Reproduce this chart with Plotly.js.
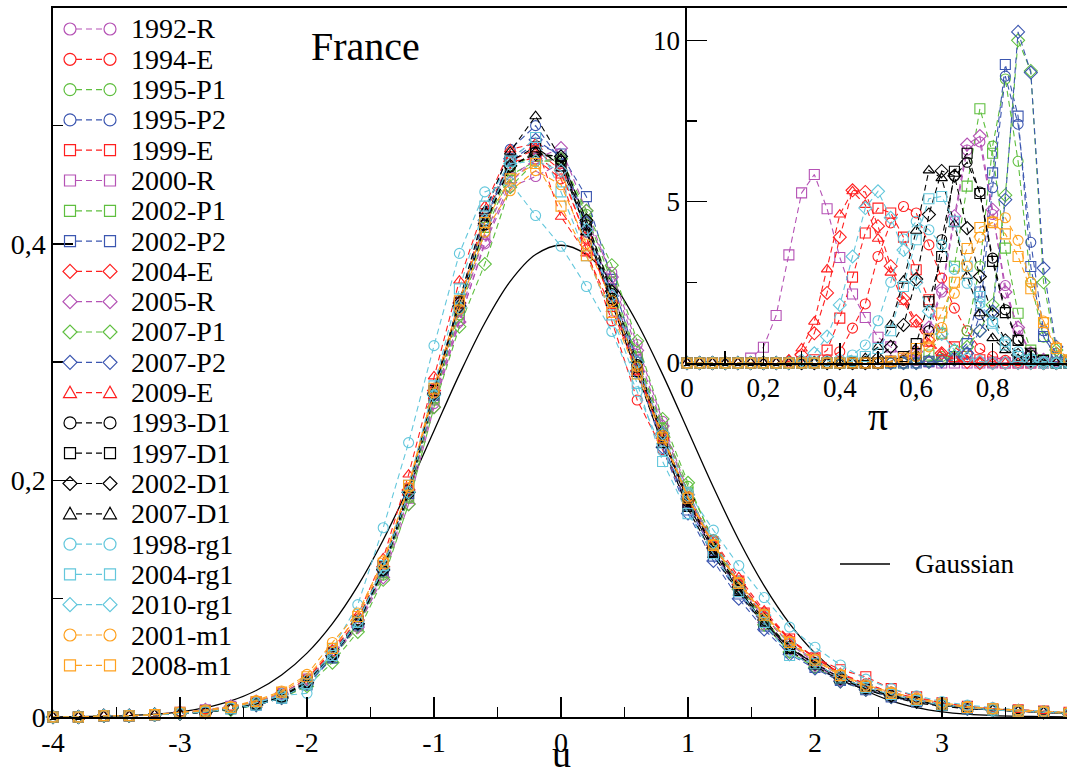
<!DOCTYPE html>
<html><head><meta charset="utf-8">
<script src="https://cdn.plot.ly/plotly-3.0.1.min.js"></script>
<style>html,body{margin:0;padding:0;overflow:hidden;background:#fff}#chart{width:1069px;height:777px}</style>
</head><body><div id="chart"></div><script>
// ---------- DATA ----------
const seriesNames = ['1992-R','1994-E','1995-P1','1995-P2','1999-E','2000-R','2002-P1','2002-P2','2004-E','2005-R','2007-P1','2007-P2','2009-E','1993-D1','1997-D1','2002-D1','2007-D1','1998-rg1','2004-rg1','2010-rg1','2001-m1','2008-m1'];
const M='#b552b5', R='#ff1f1f', G='#5fbf3f', B='#3b56b0', K='#000000', C='#63c7dc', O='#ffa11f';
const seriesColors = [M,R,G,B,R,M,G,B,R,M,G,B,R,K,K,K,K,C,C,C,O,O];
const seriesSymbols = ['circle','circle','circle','circle','square','square','square','square','diamond','diamond','diamond','diamond','triangle-up','circle','square','diamond','triangle-up','circle','square','diamond','circle','square'];

const u = [-4,-3.8,-3.6,-3.4,-3.2,-3,-2.8,-2.6,-2.4,-2.2,-2,-1.8,-1.6,-1.4,-1.2,-1,-0.8,-0.6,-0.4,-0.2,0,0.2,0.4,0.6,0.8,1,1.2,1.4,1.6,1.8,2,2.2,2.4,2.6,2.8,3,3.2,3.4,3.6,3.8,4];
const piGrid = [0,0.0333,0.0667,0.1,0.1333,0.1667,0.2,0.2333,0.2667,0.3,0.3333,0.3667,0.4,0.4333,0.4667,0.5,0.5333,0.5667,0.6,0.6333,0.6667,0.7,0.7333,0.7667,0.8,0.8333,0.8667,0.9,0.9333,0.9667,1];

const gaussian = [0.0001,0.0003,0.0006,0.0012,0.0024,0.0044,0.0079,0.0136,0.0224,0.0355,0.0540,0.0790,0.1109,0.1497,0.1942,0.2420,0.2897,0.3332,0.3683,0.3910,0.3989,0.3910,0.3683,0.3332,0.2897,0.2420,0.1942,0.1497,0.1109,0.0790,0.0540,0.0355,0.0224,0.0136,0.0079,0.0044,0.0024,0.0012,0.0006,0.0003,0.0001];

// main panel: P(u)
const main_1992R = [0,0,0.001,0.001,0.002,0.004,0.005,0.008,0.012,0.018, 0.031,0.052,0.078,0.122,0.186,0.265,0.335,0.400,0.448,0.457, 0.468,0.420,0.376,0.315,0.250,0.190,0.146,0.112,0.084,0.062, 0.046,0.033,0.025,0.019,0.014,0.010,0.008,0.006,0.005,0.004, 0.003];
const main_1994E = [0,0,0.001,0.001,0.002,0.003,0.004,0.007,0.011,0.019, 0.032,0.056,0.082,0.128,0.192,0.278,0.352,0.425,0.470,0.472, 0.455,0.395,0.335,0.268,0.226,0.180,0.148,0.115,0.088,0.065, 0.050,0.036,0.028,0.021,0.015,0.011,0.008,0.006,0.005,0.004, 0.003];
const main_1995P1 = [0,0,0.001,0.001,0.002,0.003,0.005,0.008,0.012,0.019, 0.029,0.050,0.076,0.120,0.185,0.268,0.340,0.410,0.458,0.470, 0.470,0.425,0.368,0.305,0.245,0.195,0.150,0.113,0.082,0.058, 0.045,0.032,0.024,0.018,0.013,0.010,0.008,0.006,0.005,0.004, 0.003];
const main_1995P2 = [0,0,0.001,0.001,0.002,0.003,0.004,0.007,0.010,0.017, 0.029,0.053,0.080,0.126,0.192,0.278,0.352,0.425,0.480,0.500, 0.470,0.410,0.352,0.292,0.232,0.178,0.140,0.108,0.080,0.057, 0.044,0.032,0.024,0.018,0.013,0.010,0.008,0.006,0.005,0.004, 0.003];
const main_1999E = [0,0,0.001,0.001,0.002,0.003,0.005,0.008,0.012,0.019, 0.031,0.054,0.082,0.128,0.193,0.276,0.350,0.420,0.468,0.474, 0.460,0.405,0.350,0.296,0.236,0.186,0.148,0.115,0.088,0.066, 0.050,0.040,0.034,0.024,0.017,0.012,0.009,0.007,0.006,0.005, 0.004];
const main_2000R = [0,0,0.001,0.001,0.002,0.004,0.006,0.009,0.013,0.020, 0.032,0.053,0.078,0.122,0.185,0.268,0.338,0.408,0.456,0.472, 0.470,0.418,0.360,0.302,0.240,0.182,0.140,0.106,0.078,0.057, 0.045,0.032,0.024,0.018,0.013,0.010,0.008,0.006,0.005,0.004, 0.003];
const main_2002P1 = [0,0,0.001,0.001,0.002,0.003,0.004,0.007,0.011,0.017, 0.028,0.050,0.077,0.122,0.186,0.270,0.344,0.414,0.462,0.478, 0.472,0.420,0.362,0.304,0.244,0.190,0.146,0.110,0.082,0.059, 0.045,0.032,0.024,0.018,0.013,0.010,0.007,0.006,0.005,0.004, 0.003];
const main_2002P2 = [0,0,0.001,0.001,0.002,0.003,0.004,0.007,0.010,0.016, 0.027,0.050,0.078,0.124,0.189,0.272,0.346,0.418,0.470,0.485, 0.476,0.440,0.370,0.300,0.232,0.175,0.136,0.104,0.077,0.055, 0.042,0.031,0.023,0.017,0.013,0.010,0.007,0.006,0.005,0.004, 0.003];
const main_2004E = [0,0,0.001,0.001,0.002,0.003,0.005,0.008,0.012,0.019, 0.031,0.055,0.082,0.127,0.192,0.276,0.350,0.420,0.470,0.480, 0.462,0.405,0.350,0.293,0.236,0.183,0.145,0.112,0.085,0.062, 0.048,0.035,0.027,0.020,0.015,0.011,0.008,0.007,0.005,0.004, 0.003];
const main_2005R = [0,0,0.001,0.001,0.002,0.004,0.006,0.009,0.013,0.020, 0.031,0.052,0.076,0.118,0.180,0.262,0.334,0.402,0.452,0.472, 0.481,0.428,0.372,0.310,0.246,0.188,0.143,0.108,0.080,0.058, 0.044,0.031,0.023,0.017,0.013,0.010,0.007,0.006,0.005,0.004, 0.003];
const main_2007P1 = [0,0,0.001,0.001,0.002,0.003,0.004,0.006,0.010,0.016, 0.026,0.046,0.072,0.116,0.180,0.262,0.330,0.383,0.448,0.470, 0.472,0.428,0.382,0.318,0.252,0.198,0.148,0.108,0.078,0.055, 0.042,0.030,0.023,0.017,0.013,0.010,0.007,0.006,0.005,0.004, 0.003];
const main_2007P2 = [0,0,0.001,0.001,0.002,0.003,0.004,0.007,0.010,0.016, 0.028,0.051,0.078,0.124,0.190,0.274,0.348,0.420,0.472,0.488, 0.474,0.418,0.356,0.292,0.228,0.172,0.132,0.100,0.074,0.053, 0.041,0.030,0.023,0.017,0.013,0.010,0.007,0.006,0.005,0.004, 0.003];
const main_2009E = [0,0,0.001,0.001,0.002,0.003,0.005,0.008,0.012,0.019, 0.032,0.057,0.086,0.134,0.205,0.288,0.369,0.432,0.480,0.485, 0.423,0.392,0.345,0.292,0.236,0.186,0.150,0.118,0.090,0.066, 0.050,0.037,0.028,0.021,0.016,0.012,0.009,0.007,0.006,0.005, 0.004];
const main_1993D1 = [0,0,0.001,0.001,0.002,0.003,0.004,0.007,0.011,0.017, 0.029,0.052,0.079,0.124,0.189,0.272,0.346,0.416,0.465,0.478, 0.470,0.416,0.358,0.298,0.238,0.182,0.142,0.108,0.080,0.058, 0.045,0.032,0.024,0.018,0.013,0.010,0.008,0.006,0.005,0.004, 0.003];
const main_1997D1 = [0,0,0.001,0.001,0.002,0.003,0.005,0.008,0.011,0.018, 0.030,0.054,0.081,0.127,0.192,0.276,0.350,0.420,0.470,0.482, 0.466,0.412,0.354,0.296,0.236,0.180,0.140,0.107,0.080,0.058, 0.045,0.033,0.025,0.019,0.014,0.010,0.008,0.006,0.005,0.004, 0.003];
const main_2002D1 = [0,0,0.001,0.001,0.002,0.003,0.004,0.007,0.011,0.017, 0.029,0.052,0.079,0.125,0.190,0.273,0.347,0.417,0.466,0.476, 0.474,0.420,0.360,0.300,0.240,0.184,0.143,0.110,0.082,0.059, 0.045,0.033,0.025,0.018,0.013,0.010,0.008,0.006,0.005,0.004, 0.003];
const main_2007D1 = [0,0,0.001,0.001,0.002,0.003,0.004,0.007,0.010,0.016, 0.028,0.052,0.080,0.126,0.192,0.276,0.352,0.428,0.478,0.508, 0.472,0.410,0.350,0.290,0.230,0.176,0.137,0.105,0.078,0.056, 0.043,0.031,0.023,0.017,0.012,0.009,0.007,0.006,0.005,0.004, 0.003];
const main_1998rg1 = [0,0,0.001,0.001,0.002,0.003,0.005,0.008,0.012,0.018, 0.020,0.058,0.095,0.160,0.232,0.314,0.392,0.444,0.452,0.424, 0.398,0.364,0.326,0.275,0.225,0.190,0.158,0.128,0.101,0.076, 0.059,0.044,0.032,0.024,0.018,0.013,0.010,0.008,0.006,0.005, 0.004];
const main_2004rg1 = [0,0,0.001,0.001,0.002,0.003,0.004,0.007,0.010,0.016, 0.028,0.052,0.080,0.128,0.196,0.280,0.362,0.432,0.470,0.490, 0.444,0.390,0.340,0.282,0.216,0.172,0.138,0.106,0.080,0.052, 0.045,0.033,0.025,0.019,0.014,0.010,0.008,0.006,0.005,0.004, 0.003];
const main_2010rg1 = [0,0,0.001,0.001,0.002,0.003,0.005,0.008,0.012,0.019, 0.031,0.054,0.081,0.126,0.190,0.272,0.346,0.420,0.468,0.470, 0.462,0.412,0.356,0.300,0.240,0.188,0.148,0.114,0.086,0.062, 0.048,0.035,0.027,0.020,0.015,0.011,0.008,0.006,0.005,0.004, 0.003];
const main_2001m1 = [0,0,0.001,0.001,0.002,0.004,0.006,0.009,0.014,0.022, 0.036,0.063,0.088,0.132,0.194,0.274,0.345,0.410,0.445,0.462, 0.450,0.400,0.352,0.296,0.238,0.186,0.146,0.114,0.087,0.064, 0.049,0.036,0.027,0.021,0.016,0.012,0.009,0.007,0.006,0.005, 0.004];
const main_2008m1 = [0,0,0.001,0.001,0.002,0.004,0.005,0.008,0.013,0.021, 0.034,0.058,0.085,0.130,0.196,0.278,0.352,0.418,0.455,0.468, 0.432,0.390,0.342,0.290,0.236,0.185,0.145,0.113,0.086,0.063, 0.048,0.035,0.026,0.020,0.015,0.011,0.008,0.007,0.005,0.004, 0.003];

// inset panel: P(pi)
const inset_1992R = [0,0,0,0,0,0,0,0,0,0, 0,0,0,0,0,0,0.03,0.10,0.30,1.00, 2.20,4.40,6.60,6.85,4.60,2.40,1.00,0.30,0.10,0.03, 0];
const inset_1994E = [0,0,0,0,0,0,0,0,0,0, 0.03,0.10,0.35,1.08,1.83,3.30,4.34,4.85,4.65,3.66, 2.63,1.70,1.00,0.45,0.20,0.08,0.02,0,0,0, 0];
const inset_1995P1 = [0,0,0,0,0,0,0,0,0,0, 0,0,0,0,0,0,0,0,0,0.05, 0.20,0.40,1.00,3.00,6.72,8.80,6.25,2.50,0.80,0.20, 0.05];
const inset_1995P2 = [0,0,0,0,0,0,0,0,0,0, 0,0,0,0,0,0,0,0,0,0.03, 0.08,0.15,0.30,1.50,5.43,8.89,7.40,3.74,1.00,0.30, 0.05];
const inset_1999E = [0,0,0,0,0,0,0,0,0,0.03, 0.10,0.40,1.39,2.66,4.03,4.80,4.65,3.90,2.89,1.96, 0.90,0.50,0.20,0.10,0.03,0,0,0,0,0, 0];
const inset_2000R = [0,0,0,0,0,0.15,0.49,1.47,3.35,5.27, 5.84,4.78,3.27,2.14,1.41,0.80,0.50,0.20,0.08,0.03, 0,0,0,0,0,0,0,0,0,0, 0];
const inset_2002P1 = [0,0,0,0,0,0,0,0,0,0, 0,0,0,0,0,0,0,0,0.10,0.25, 0.92,3.00,5.48,7.88,6.50,3.56,1.54,0.40,0.10,0, 0];
const inset_2002P2 = [0,0,0,0,0,0,0,0,0,0, 0,0,0,0,0,0,0,0,0,0.05, 0.10,0.20,0.60,2.20,5.89,9.25,7.65,2.99,0.82,0.20, 0.05];
const inset_2004E = [0,0,0,0,0,0,0,0,0.05,0.25, 0.92,2.17,3.90,5.35,5.30,4.24,3.00,2.00,1.30,0.70, 0.30,0.10,0.03,0,0,0,0,0,0,0, 0];
const inset_2005R = [0,0,0,0,0,0,0,0,0,0, 0,0,0,0,0,0,0.05,0.12,0.35,1.10, 2.30,4.55,6.77,7.03,4.75,2.20,1.10,0.30,0.10,0.03, 0];
const inset_2007P1 = [0,0,0,0,0,0,0,0,0,0, 0,0,0,0,0,0,0,0,0,0.05, 0.10,0.20,0.50,1.00,1.80,5.20,10.00,9.05,2.50,0.40, 0.05];
const inset_2007P2 = [0,0,0,0,0,0,0,0,0,0, 0,0,0,0,0,0,0,0,0,0.03, 0.05,0.10,0.30,1.00,1.60,5.06,10.26,9.00,2.94,0.50, 0.10];
const inset_2009E = [0,0,0,0,0,0,0,0,0.10,0.45, 1.28,2.90,4.60,5.32,4.90,3.85,2.80,1.90,1.20,0.60, 0.30,0.12,0.04,0,0,0,0,0,0,0, 0];
const inset_1993D1 = [0,0,0,0,0,0,0,0,0,0, 0,0,0,0,0,0,0.03,0.08,0.20,1.00, 3.82,5.79,6.22,5.30,3.25,1.65,0.72,0.25,0.06,0, 0];
const inset_1997D1 = [0,0,0,0,0,0,0,0,0,0, 0,0,0,0,0,0,0.05,0.20,0.60,1.90, 3.30,5.94,6.50,5.25,3.15,1.56,0.70,0.30,0.08,0, 0];
const inset_2002D1 = [0,0,0,0,0,0,0,0,0,0, 0,0,0,0,0,0.15,0.50,1.18,2.60,4.60, 5.95,5.80,4.18,2.68,1.50,0.70,0.25,0.08,0,0, 0];
const inset_2007D1 = [0,0,0,0,0,0,0,0,0,0, 0,0,0,0,0.15,0.50,1.18,2.55,4.10,5.97, 5.73,4.30,2.70,1.54,0.77,0.40,0.12,0.03,0,0, 0];
const inset_1998rg1 = [0,0,0,0,0,0,0,0,0,0, 0.03,0.06,0.10,0.25,0.56,1.31,2.50,3.84,4.39,4.13, 3.66,2.90,2.47,1.85,1.28,0.66,0.35,0.15,0.05,0, 0];
const inset_2004rg1 = [0,0,0,0,0,0,0,0,0,0, 0,0,0,0.05,0.20,0.45,1.00,2.37,3.82,5.09, 5.16,4.39,3.00,2.06,1.23,0.56,0.20,0.08,0,0, 0];
const inset_2010rg1 = [0,0,0,0,0,0,0,0,0,0.08, 0.30,0.82,1.80,3.30,4.80,5.32,4.50,3.50,2.50,1.60, 0.90,0.40,0.15,0.05,0,0,0,0,0,0, 0];
const inset_2001m1 = [0,0,0,0,0,0,0,0,0,0, 0,0,0,0,0,0,0.03,0.10,0.20,0.50, 1.10,2.16,3.00,3.90,4.40,4.50,3.80,2.50,1.30,0.50, 0.10];
const inset_2008m1 = [0,0,0,0,0,0,0,0,0,0, 0,0,0,0,0,0,0.05,0.15,0.45,0.75, 1.55,2.50,3.55,4.20,4.35,4.00,3.30,2.30,1.25,0.45, 0.10];

const xTickVals = [-4,-3,-2,-1,0,1,2,3,4];
const xTickText = ['-4','-3','-2','-1','0','1','2','3','4'];
const yTickVals = [0,0.2,0.4];
const yTickText = ['0','0,2','0,4'];
const x2TickVals = [0,0.2,0.4,0.6,0.8,1];
const x2TickText = ['0','0,2','0,4','0,6','0,8','1'];
const y2TickVals = [0,5,10];
const y2TickText = ['0','5','10'];

// ---------- BUILD ----------
const mainSeries = [main_1992R,main_1994E,main_1995P1,main_1995P2,main_1999E,main_2000R,main_2002P1,main_2002P2,main_2004E,main_2005R,main_2007P1,main_2007P2,main_2009E,main_1993D1,main_1997D1,main_2002D1,main_2007D1,main_1998rg1,main_2004rg1,main_2010rg1,main_2001m1,main_2008m1];
const insetSeries = [inset_1992R,inset_1994E,inset_1995P1,inset_1995P2,inset_1999E,inset_2000R,inset_2002P1,inset_2002P2,inset_2004E,inset_2005R,inset_2007P1,inset_2007P2,inset_2009E,inset_1993D1,inset_1997D1,inset_2002D1,inset_2007D1,inset_1998rg1,inset_2004rg1,inset_2010rg1,inset_2001m1,inset_2008m1];

const FONT = '"Liberation Serif", "Times New Roman", serif';
const DASH = '6px,4px';
const traces = [];
traces.push({x:u, y:gaussian, type:'scatter', mode:'lines', line:{color:'black', width:1.3, shape:'spline'}, showlegend:false, hoverinfo:'skip', name:'Gaussian'});
seriesNames.forEach((nm,i)=>{
  traces.push({x:u, y:mainSeries[i], type:'scatter', mode:'lines+markers', name:nm, showlegend:false, cliponaxis:false,
    line:{color:seriesColors[i], width:1.1, dash:DASH},
    marker:{symbol:seriesSymbols[i]+'-open', size:10, color:seriesColors[i], line:{color:seriesColors[i], width:1.1}}});
});
seriesNames.forEach((nm,i)=>{
  traces.push({x:piGrid, y:insetSeries[i], xaxis:'x2', yaxis:'y2', type:'scatter', mode:'lines+markers', name:nm, showlegend:false, cliponaxis:false,
    line:{color:seriesColors[i], width:1.1, dash:DASH},
    marker:{symbol:seriesSymbols[i]+'-open', size:10, color:seriesColors[i], line:{color:seriesColors[i], width:1.1}}});
});

// ---------- LEGEND (drawn as layout decorations) ----------
const L = 53, PW = 1016, T = 8, PH = 709;
const px2x = p => (p - L) / PW;
const py2y = p => (T + PH - p) / PH;
const shapes = [], annotations = [];
const legTop = 29, legStep = 30.3;
function markerShape(sym, xa, ya, col){
  const base = {xref:'paper', yref:'paper', xsizemode:'pixel', ysizemode:'pixel', xanchor:xa, yanchor:ya, line:{color:col, width:1.2}, fillcolor:'rgba(0,0,0,0)', layer:'above'};
  if(sym==='circle') return Object.assign({type:'circle', x0:-6, x1:6, y0:-6, y1:6}, base);
  if(sym==='square') return Object.assign({type:'rect', x0:-5.5, x1:5.5, y0:-5.5, y1:5.5}, base);
  if(sym==='diamond') return Object.assign({type:'path', path:'M-7,0L0,7L7,0L0,-7Z'}, base);
  return Object.assign({type:'path', path:'M-6.5,-5L6.5,-5L0,6.5Z'}, base);
}
seriesNames.forEach((nm,i)=>{
  const yc = legTop + i*legStep;
  const yp = py2y(yc);
  shapes.push({type:'line', xref:'paper', yref:'paper', x0:px2x(76), x1:px2x(104), y0:yp, y1:yp, line:{color:seriesColors[i], width:1.2, dash:DASH}, layer:'above'});
  shapes.push(markerShape(seriesSymbols[i], px2x(70), yp, seriesColors[i]));
  shapes.push(markerShape(seriesSymbols[i], px2x(110), yp, seriesColors[i]));
  annotations.push({xref:'paper', yref:'paper', x:px2x(129), y:yp, xanchor:'left', yanchor:'middle', text:nm, showarrow:false, font:{family:FONT, size:28, color:'black'}});
});
// Gaussian key
shapes.push({type:'line', xref:'paper', yref:'paper', x0:px2x(840), x1:px2x(890), y0:py2y(564), y1:py2y(564), line:{color:'black', width:1.3}});
annotations.push({xref:'paper', yref:'paper', x:px2x(913), y:py2y(564), xanchor:'left', yanchor:'middle', text:'Gaussian', showarrow:false, font:{family:FONT, size:27, color:'black'}});
annotations.push({xref:'paper', yref:'paper', x:px2x(365), y:py2y(46), xanchor:'center', yanchor:'middle', text:'France', showarrow:false, font:{family:FONT, size:40, color:'black'}});
// main x-axis title, kept inside the picture just under the tick labels
annotations.push({xref:'paper', yref:'paper', x:px2x(561), y:py2y(776), xanchor:'center', yanchor:'bottom', borderpad:0, text:'u', showarrow:false, font:{family:FONT, size:38, color:'black'}});

const axBase = {showline:true, linecolor:'black', linewidth:1.6, mirror:true, showgrid:false, zeroline:false, ticks:'inside', ticklen:20, tickwidth:1.5, tickcolor:'black', tickmode:'array'};
const layout = {
  width:1069, height:777,
  margin:{l:L, r:0, t:T, b:777-T-PH},
  paper_bgcolor:'white', plot_bgcolor:'white',
  separators:', ',
  showlegend:false,
  font:{family:FONT, color:'black', size:28},
  xaxis: Object.assign({}, axBase, {range:[-4,4], tickvals:xTickVals, ticktext:xTickText, tickfont:{size:28},
    minor:{tickmode:'linear', tick0:-4, dtick:0.5, ticks:'inside', ticklen:10, tickwidth:1.5, tickcolor:'black', showgrid:false}}),
  yaxis: Object.assign({}, axBase, {range:[0,0.5995], tickvals:yTickVals, ticktext:yTickText, tickfont:{size:28},
    minor:{tickmode:'linear', tick0:0, dtick:0.1, ticks:'inside', ticklen:10, tickwidth:1.5, tickcolor:'black', showgrid:false}}),
  xaxis2: Object.assign({}, axBase, {domain:[px2x(687),1], anchor:'y2', range:[0,1], tickvals:x2TickVals, ticktext:x2TickText, tickfont:{size:27},
    minor:{tickmode:'linear', tick0:0, dtick:0.1, ticks:'inside', ticklen:12, tickwidth:1.5, tickcolor:'black', showgrid:false},
    title:{text:'π', font:{size:40}, standoff:0}}),
  yaxis2: Object.assign({}, axBase, {domain:[py2y(363),1], anchor:'x2', range:[0,11], tickvals:y2TickVals, ticktext:y2TickText, tickfont:{size:27},
    minor:{tickmode:'linear', tick0:0, dtick:2.5, ticks:'inside', ticklen:10, tickwidth:1.5, tickcolor:'black', showgrid:false}}),
  shapes: shapes,
  annotations: annotations
};
Plotly.newPlot('chart', traces, layout, {displayModeBar:false, staticPlot:true});
</script></body></html>
